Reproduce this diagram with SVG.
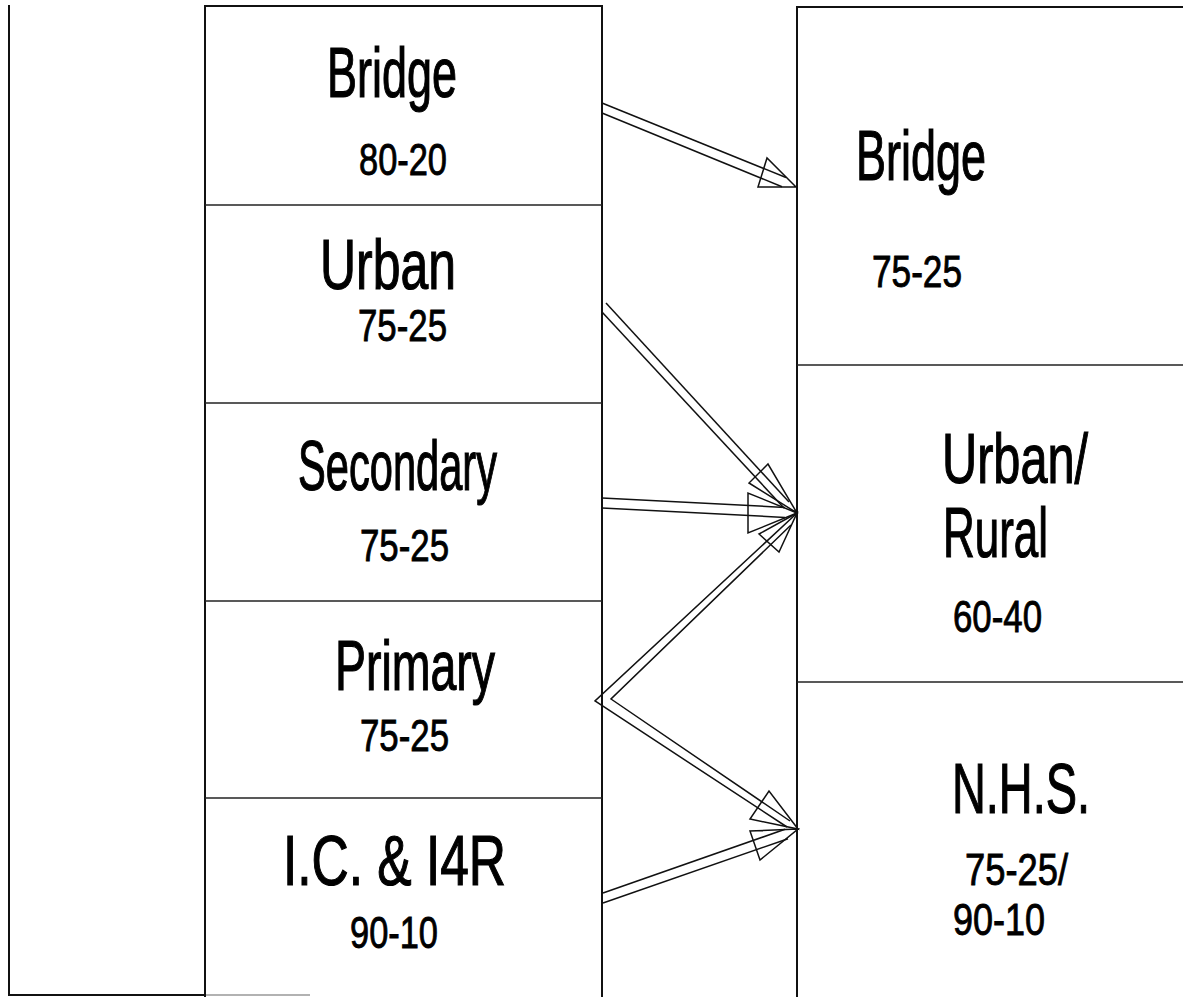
<svg xmlns="http://www.w3.org/2000/svg" width="1183" height="997" viewBox="0 0 1183 997">
<style>
.frame{stroke:#111;stroke-width:2;fill:none}
.div{stroke:#222;stroke-width:1.6;fill:none}
.arr{stroke:#111;stroke-width:1.5;fill:none;stroke-linejoin:miter}
.big{font-family:"Liberation Sans",Arial,sans-serif;font-size:70px;fill:#000;stroke:#000;stroke-width:1.2}
.small{font-family:"Liberation Sans",Arial,sans-serif;font-size:45px;fill:#000;stroke:#000;stroke-width:0.9}
</style>
<rect width="1183" height="997" fill="#fff"/>
<g id="outer-left">
<path class="frame" d="M9,5 V995 H205"/>
<path d="M205,995 H310" stroke="#999" stroke-width="1.5"/>
</g>
<g id="middle-column">
<path class="frame" d="M205,997 V6 H602 V997"/>
</g>
<g id="right-column">
<path class="frame" d="M797,997 V7 H1183"/>
</g>
<g id="node-bridge-left">
<line class="div" x1="205" y1="205" x2="602" y2="205"/>
<text class="big" x="327" y="97" textLength="130" lengthAdjust="spacingAndGlyphs">Bridge</text>
<text class="small" x="359" y="175" textLength="88" lengthAdjust="spacingAndGlyphs">80-20</text>
</g>
<g id="node-urban">
<line class="div" x1="205" y1="403" x2="602" y2="403"/>
<text class="big" x="320" y="289" textLength="136" lengthAdjust="spacingAndGlyphs">Urban</text>
<text class="small" x="358" y="341" textLength="89" lengthAdjust="spacingAndGlyphs">75-25</text>
</g>
<g id="node-secondary">
<line class="div" x1="205" y1="601" x2="602" y2="601"/>
<text class="big" x="298" y="490" textLength="199" lengthAdjust="spacingAndGlyphs">Secondary</text>
<text class="small" x="360" y="561" textLength="89" lengthAdjust="spacingAndGlyphs">75-25</text>
</g>
<g id="node-primary">
<line class="div" x1="205" y1="798" x2="602" y2="798"/>
<text class="big" x="335" y="690" textLength="160" lengthAdjust="spacingAndGlyphs">Primary</text>
<text class="small" x="360" y="751" textLength="89" lengthAdjust="spacingAndGlyphs">75-25</text>
</g>
<g id="node-ic-i4r">
<text class="big" x="283" y="885" textLength="223" lengthAdjust="spacingAndGlyphs">I.C. &amp; I4R</text>
<text class="small" x="350" y="948" textLength="88" lengthAdjust="spacingAndGlyphs">90-10</text>
</g>
<g id="node-bridge-right">
<line class="div" x1="797" y1="365" x2="1183" y2="365"/>
<text class="big" x="856" y="180" textLength="130" lengthAdjust="spacingAndGlyphs">Bridge</text>
<text class="small" x="872" y="287" textLength="90" lengthAdjust="spacingAndGlyphs">75-25</text>
</g>
<g id="node-urban-rural">
<line class="div" x1="797" y1="682" x2="1183" y2="682"/>
<text class="big" x="942" y="483" textLength="146" lengthAdjust="spacingAndGlyphs">Urban/</text>
<text class="big" x="943" y="557" textLength="105" lengthAdjust="spacingAndGlyphs">Rural</text>
<text class="small" x="953" y="632" textLength="89" lengthAdjust="spacingAndGlyphs">60-40</text>
</g>
<g id="node-nhs">
<text class="big" x="952" y="813" textLength="138" lengthAdjust="spacingAndGlyphs">N.H.S.</text>
<text class="small" x="965" y="885" textLength="103" lengthAdjust="spacingAndGlyphs">75-25/</text>
<text class="small" x="953" y="935" textLength="92" lengthAdjust="spacingAndGlyphs">90-10</text>
</g>
<g id="connectors">
<line class="arr" x1="602" y1="103" x2="786" y2="177.5"/>
<line class="arr" x1="602" y1="113" x2="782" y2="186.7"/>
<polygon class="arr" points="796,187 767,158 758,187"/>
<line class="arr" x1="606" y1="303" x2="789" y2="502"/>
<line class="arr" x1="602" y1="312" x2="784" y2="508"/>
<polygon class="arr" points="797,513 768,464 749,483"/>
<line class="arr" x1="602" y1="498" x2="785" y2="507.4"/>
<line class="arr" x1="602" y1="508" x2="785" y2="517.4"/>
<polygon class="arr" points="797,513 748,493 748,533"/>
<polyline class="arr" points="796,514 595,701 787,827"/>
<polyline class="arr" points="791,525 611,699 790,821"/>
<polygon class="arr" points="797,513 759,534 779,552"/>
<polygon class="arr" points="798,829 769,791 750,819"/>
<line class="arr" x1="603" y1="893" x2="785" y2="829.3"/>
<line class="arr" x1="603" y1="903" x2="788" y2="838.7"/>
<polygon class="arr" points="798,829 750,831 760,860"/>
</g>
</svg>
